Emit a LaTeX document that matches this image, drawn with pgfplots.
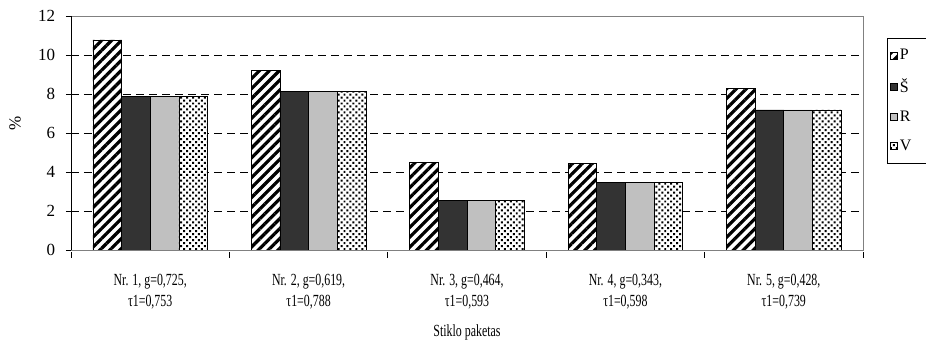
\documentclass[border=0pt]{standalone}
\usepackage{fontspec}
\setmainfont{Liberation Serif}
\newfontfamily\condensed{Liberation Serif}[FakeStretch=0.7]
\usepackage{pgfplots}
\pgfplotsset{compat=1.18}
\usetikzlibrary{patterns.meta}
\definecolor{darkbar}{HTML}{333333}
\definecolor{lightbar}{HTML}{C0C0C0}
\definecolor{frame}{HTML}{808080}
\begin{document}
\fontsize{17}{20}\selectfont
\begin{tikzpicture}
\begin{axis}[
  scale only axis, width=792pt, height=234pt,
  xmin=-0.5, xmax=4.5, ymin=0, ymax=12,
  ytick={0,2,...,12},
  xtick={0,...,4},
  xtick pos=bottom, ytick pos=left,
  xticklabels={{Nr. 1, g=0,725,\\[2pt]τ1=0,753},{Nr. 2, g=0,619,\\[2pt]τ1=0,788},{Nr. 3, g=0,464,\\[2pt]τ1=0,593},{Nr. 4, g=0,343,\\[2pt]τ1=0,598},{Nr. 5, g=0,428,\\[2pt]τ1=0,739}},
  xticklabel style={align=center, font=\condensed\fontsize{17}{19}\selectfont, anchor=north, yshift=-8pt},
  major x tick style={draw=none},
  minor xtick={-0.5,0.5,...,4.5},
  tick align=center,
  major tick length=10pt, minor tick length=5pt,
  major tick style={black, line width=0.7pt},
  minor tick style={black, line width=0.7pt, yshift=-2.5pt},
  yticklabel style={font=\fontsize{17}{20}\selectfont, anchor=east, xshift=-5pt},
  /pgf/number format/assume math mode=true,
  ymajorgrids,
  grid style={black, dash pattern=on 8pt off 5pt, line width=0.6pt},
  axis line style={frame, line width=0.9pt},
  ylabel={\%},
  ylabel style={at={(rel axis cs:0,0.5)}, anchor=center, yshift=56pt, xshift=10pt, font=\fontsize{17}{20}\selectfont},
  xlabel={Stiklo paketas},
  xlabel style={at={(rel axis cs:0.5,0)}, anchor=center, yshift=-82pt, font=\condensed\fontsize{17}{20}\selectfont},
  ybar=0pt, bar width=0.181,
  legend style={at={(rel axis cs:1,1)}, anchor=north west, xshift=24pt, yshift=-22pt,
    draw=black, line width=0.6pt, row sep=12pt, inner ysep=9pt, font=\fontsize{16}{18}\selectfont},
  legend cell align=left,
  legend image code/.code={\draw[#1, line width=0.5pt] (0pt,-3.5pt) rectangle (7pt,3.5pt);},
]
\addplot[draw=black, line width=0.7pt, preaction={fill=white}, pattern={Lines[angle=45, distance=7pt, line width=3.2pt]}]
  coordinates {(0,10.77) (1,9.23) (2,4.50) (3,4.44) (4,8.29)};
\addplot[draw=black, line width=0.7pt, fill=darkbar]
  coordinates {(0,7.86) (1,8.12) (2,2.56) (3,3.47) (4,7.18)};
\addplot[draw=black, line width=0.7pt, fill=lightbar]
  coordinates {(0,7.86) (1,8.12) (2,2.56) (3,3.47) (4,7.18)};
\addplot[draw=black, line width=0.7pt, preaction={fill=white}, pattern={Dots[angle=45, distance=4.2pt, radius=1.4pt]}]
  coordinates {(0,7.86) (1,8.12) (2,2.56) (3,3.47) (4,7.18)};
\legend{P\hspace*{20pt},Š,R,V}
\draw[black, line width=0.9pt] (rel axis cs:0,1) -- (rel axis cs:0,0) -- (rel axis cs:1,0);
\coordinate (ll) at (rel axis cs:0,0);
\coordinate (ur) at (rel axis cs:1,1);
\end{axis}
\pgfresetboundingbox
\path ([xshift=-71pt,yshift=-100pt]ll) rectangle ([xshift=63pt,yshift=16pt]ur);
\end{tikzpicture}
\end{document}
